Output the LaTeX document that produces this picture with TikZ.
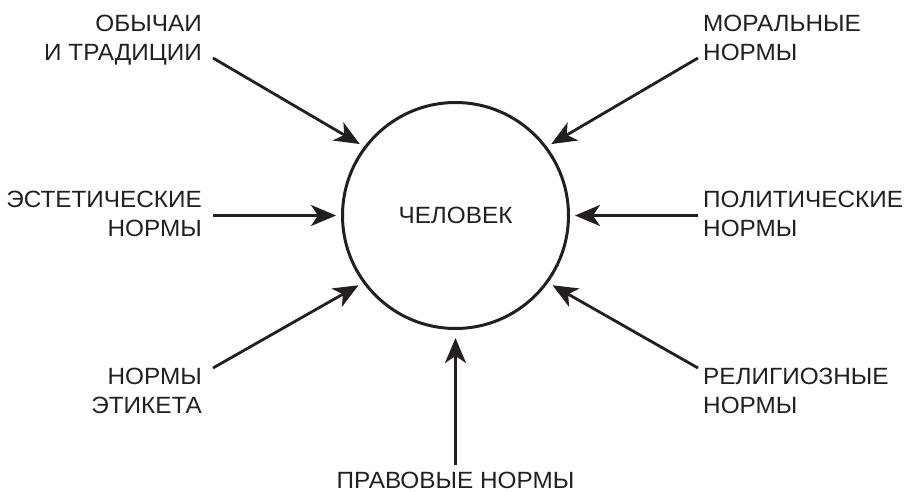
\documentclass[tikz,border=0pt]{standalone}
\usepackage{fontspec}
\setmainfont[FakeStretch=1.035]{Liberation Sans}
\usepackage{xcolor}
\usepackage{tikz}
\usetikzlibrary{arrows.meta}
\definecolor{ink}{RGB}{35,31,32}
\tikzset{
  person/.style    = {shape=circle, draw, line width=3pt,
                      minimum size=226pt, inner sep=0pt},
  normleft/.style  = {anchor=north east, align=right, inner sep=0pt},
  normright/.style = {anchor=north west, align=left, inner sep=0pt},
  normbelow/.style = {anchor=north, align=center, inner sep=0pt},
  influence/.style = {draw, line width=2.8pt, shorten >=5pt,
                      -{Stealth[length=25pt, width=21pt, inset=7pt]}}
}

\begin{document}
\begin{tikzpicture}
  [
    x                 = 1pt,
    y                 = -1pt,
    color             = ink,
    every node/.style = {font=\fontsize{23.5}{28.5}\selectfont, text=ink}
  ]
  \useasboundingbox (0,0) rectangle (908,492);
  \node [person] (man) at (455.5,215.5) {ЧЕЛОВЕК};

  \node [normleft]  (customs)   at (202,15)  {ОБЫЧАИ\\И ТРАДИЦИИ};
  \node [normleft]  (aesthetic) at (202,191) {ЭСТЕТИЧЕСКИЕ\\НОРМЫ};
  \node [normleft]  (etiquette) at (202,368) {НОРМЫ\\ЭТИКЕТА};
  \node [normbelow] (law)       at (455.5,472) {ПРАВОВЫЕ НОРМЫ};
  \node [normright] (religion)  at (703,368) {РЕЛИГИОЗНЫЕ\\НОРМЫ};
  \node [normright] (politics)  at (703,191) {ПОЛИТИЧЕСКИЕ\\НОРМЫ};
  \node [normright] (morals)    at (703,15)  {МОРАЛЬНЫЕ\\НОРМЫ};

  \coordinate (from-customs)   at (213,58);
  \coordinate (from-aesthetic) at (213,215.5);
  \coordinate (from-etiquette) at (213,368);
  \coordinate (from-law)       at (455.5,465);
  \coordinate (from-religion)  at (698,368);
  \coordinate (from-politics)  at (698,215.5);
  \coordinate (from-morals)    at (698,58);

  \draw [influence] (from-customs)   -- (man.143);
  \draw [influence] (from-aesthetic) -- (man.180);
  \draw [influence] (from-etiquette) -- (man.216);
  \draw [influence, shorten >=8pt] (from-law) -- (man.270);
  \draw [influence] (from-religion)  -- (man.324);
  \draw [influence] (from-politics)  -- (man.0);
  \draw [influence] (from-morals)    -- (man.37);
\end{tikzpicture}
\end{document}
